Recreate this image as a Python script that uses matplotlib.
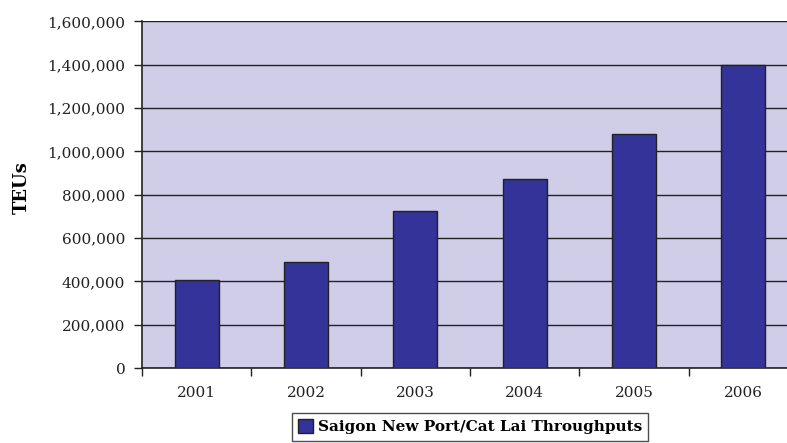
import numpy as np
import matplotlib.pyplot as plt
from matplotlib.ticker import FuncFormatter

years = ["2001", "2002", "2003", "2004", "2005", "2006"]
teus = [405000, 490000, 724000, 871000, 1080000, 1400000]
series_name = "Saigon New Port/Cat Lai Throughputs"

plt.rcParams['font.family'] = ['DejaVu Serif']

fig = plt.figure(figsize=(7.87, 4.43), dpi=100)
# plot area runs a little past the right edge of the figure
ax = fig.add_axes([0.1804, 0.1693, 0.8336, 0.7826])
ax.set_facecolor('#CFCDE8')

x = np.arange(len(years))
ax.bar(x, teus, width=0.4, color='#333399', edgecolor='#222222', linewidth=1.0,
       label=series_name, zorder=3)

ax.set_xlim(-0.5, len(years) - 0.5)
ax.set_ylim(0, 1600000)
ax.set_yticks(np.arange(0, 1600001, 200000))
ax.yaxis.set_major_formatter(FuncFormatter(lambda v, p: f"{int(v):,}"))
ax.set_xticks(x)
ax.set_xticklabels(years)
ax.set_xticks(np.arange(-0.5, len(years)), minor=True)

ax.grid(axis='y', color='#222222', linewidth=1.0, zorder=1)
ax.tick_params(axis='y', length=6, width=1, labelsize=11, pad=6, colors='#222222')
ax.tick_params(axis='x', which='major', length=0, labelsize=11, pad=13, colors='#222222')
ax.tick_params(axis='x', which='minor', length=6, width=1, color='#222222')

for s in ['top', 'right']:
    ax.spines[s].set_visible(False)
for s in ['left', 'bottom']:
    ax.spines[s].set_color('#222222')
    ax.spines[s].set_linewidth(1.2)

ax.set_ylabel("TEUs", fontsize=13, fontweight='bold')
ax.yaxis.set_label_coords(-0.17, 0.52)

leg = ax.legend(loc='center', bbox_to_anchor=(0.5, -0.17), frameon=True, fancybox=False,
                prop={'weight': 'bold', 'size': 11}, handlelength=1.0, handleheight=1.0,
                handletextpad=0.3, borderpad=0.4, borderaxespad=0)
leg.get_frame().set_edgecolor('#222222')
leg.get_frame().set_linewidth(1.0)

plt.savefig("out.png", dpi=100)
